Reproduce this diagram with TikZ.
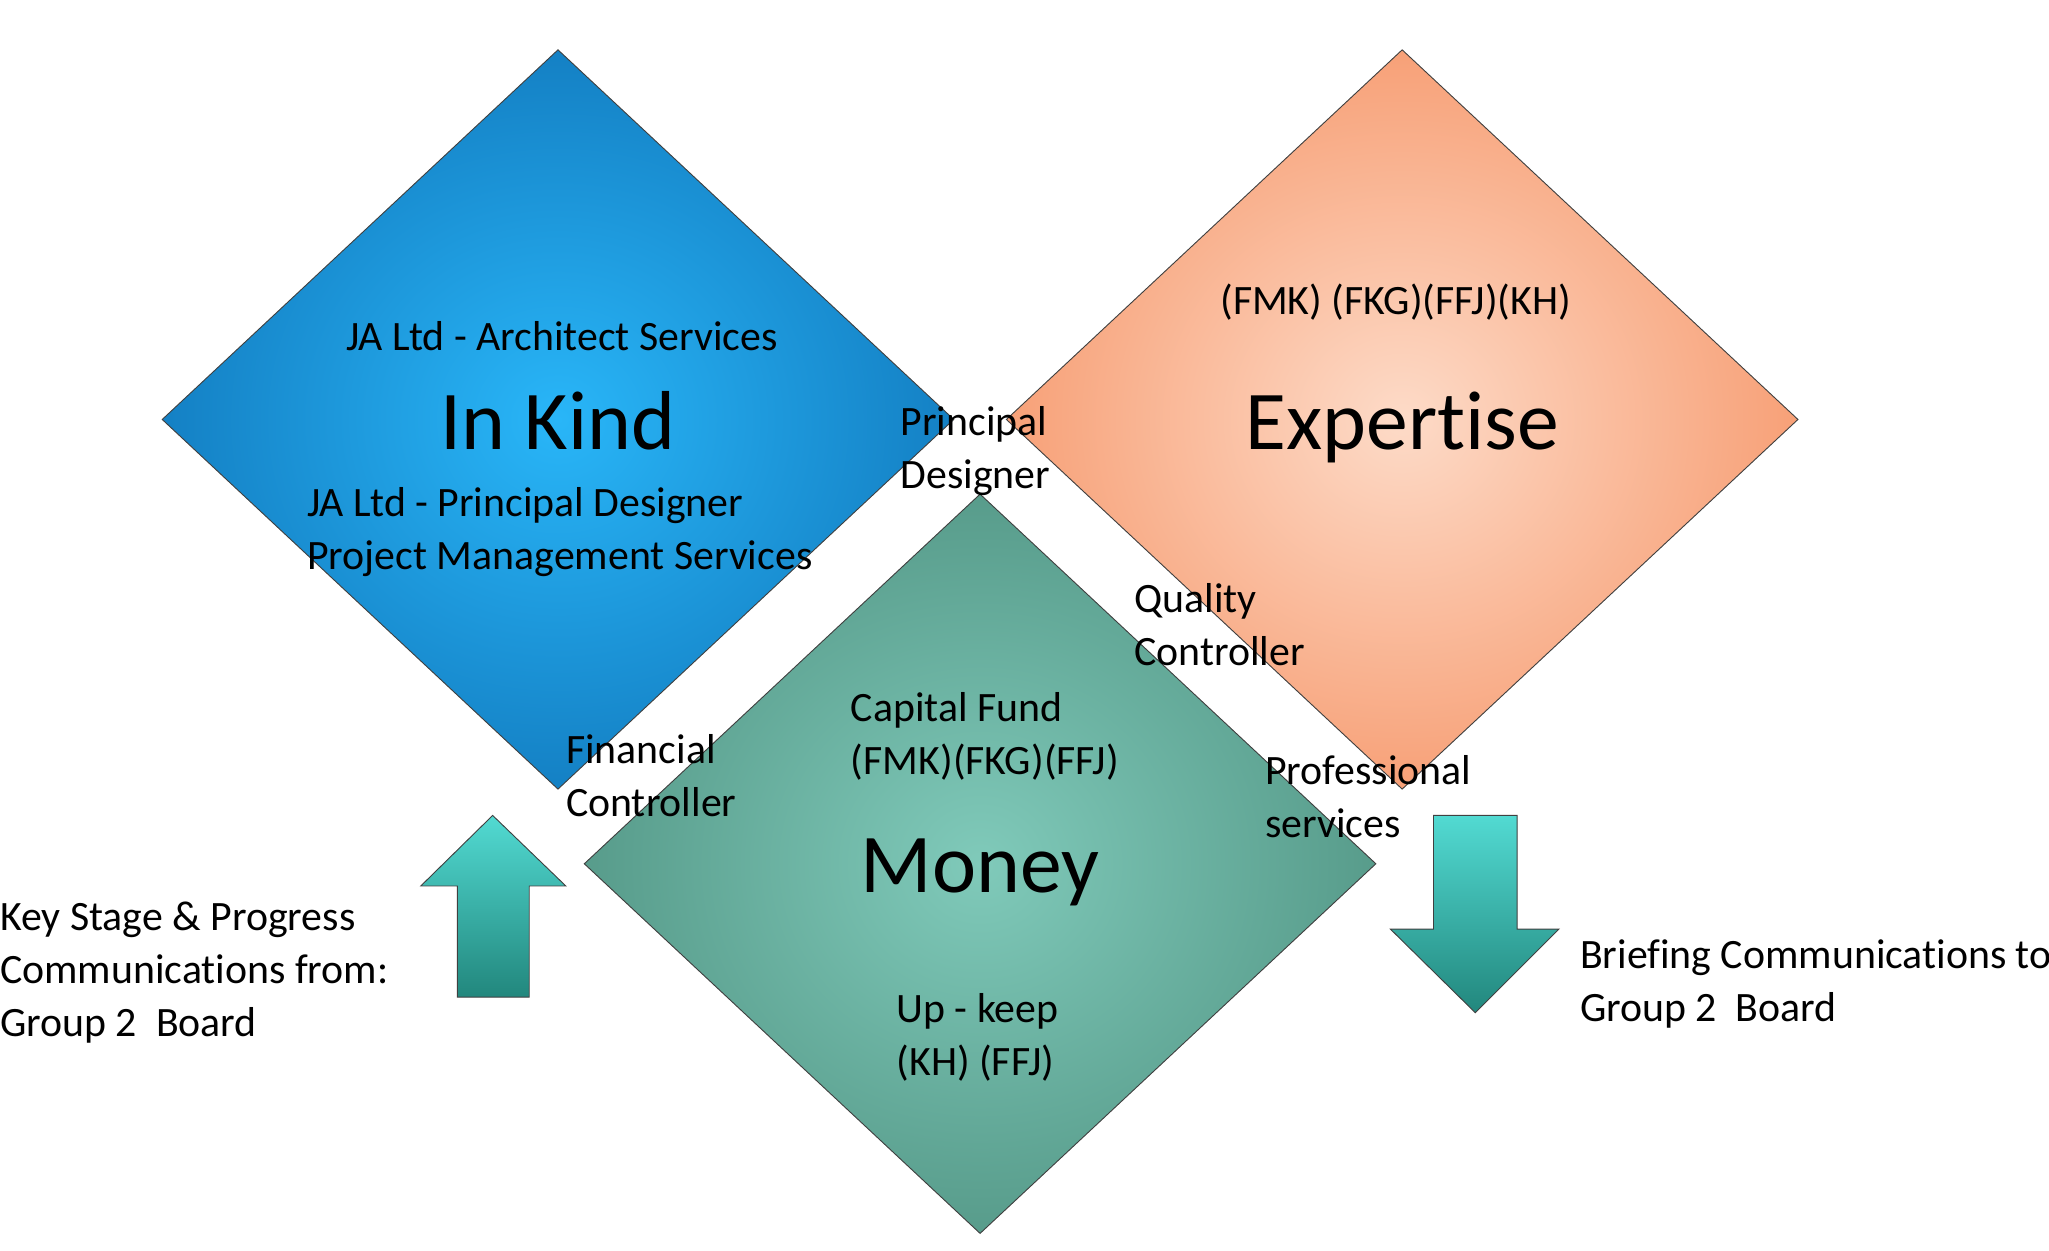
\documentclass[tikz,border=0pt]{standalone}
\usepackage{fontspec}
\setmainfont{Carlito}[Ligatures=NoCommon]
\usetikzlibrary{shapes.geometric}
\definecolor{kindlight}{HTML}{29B6F8}
\definecolor{kinddark}{HTML}{137EC2}
\definecolor{expertlight}{HTML}{FDDBC8}
\definecolor{expertdark}{HTML}{F79E74}
\definecolor{moneylight}{HTML}{80CABA}
\definecolor{moneydark}{HTML}{569A89}
\definecolor{arrowtop}{HTML}{52DAD2}
\definecolor{arrowbottom}{HTML}{22877D}
\pgfdeclareradialshading{kindglow}{\pgfpointorigin}{color(0bp)=(kindlight); color(26bp)=(kinddark); color(50bp)=(kinddark)}
\pgfdeclareradialshading{expertglow}{\pgfpointorigin}{color(0bp)=(expertlight); color(26bp)=(expertdark); color(50bp)=(expertdark)}
\pgfdeclareradialshading{moneyglow}{\pgfpointorigin}{color(0bp)=(moneylight); color(26bp)=(moneydark); color(50bp)=(moneydark)}

\begin{document}
\begin{tikzpicture}[x=1pt,y=-1pt]

    \def\w{606pt}
    \def\h{566pt}
    \def\ls{40.5}

    % Looks shared by the three fields, the two arrows and the texts
    \tikzset{
        diamondbox/.style={diamond, draw=black!75, line width=.7pt,
            inner sep=0pt, minimum width=\w, minimum height=\h},
        arrowbox/.style={draw=black!75, line width=.7pt,
            top color=arrowtop, bottom color=arrowbottom},
        txt/.style={font=\fontsize{32}{\ls}\selectfont, inner sep=0pt,
            align=left},
        bigtxt/.style={font=\fontsize{64}{70}\selectfont, inner sep=0pt}
    }

    \useasboundingbox (0,0) rectangle (1568,957);

    % The three fields
    \node[diamondbox, shading=kindglow] (kind) at (427,321) {};
    \node[diamondbox, shading=expertglow] (expert) at (1073,321) {};
    \node[diamondbox, shading=moneyglow] (money) at (750,661) {};

    % Communication arrows
    \begin{scope}
        \draw[arrowbox] (377,624) -- (433,678) -- (405,678) -- (405,763)
            -- (350,763) -- (350,678) -- (322,678) -- cycle;
        \draw[arrowbox] (1097,624) -- (1161,624) -- (1161,711) -- (1193,711)
            -- (1129,775) -- (1064,711) -- (1097,711) -- cycle;
    \end{scope}

    % Field titles
    \node[bigtxt, anchor=base] (kindtitle) at (427,344) {In Kind};
    \node[bigtxt, anchor=base] (experttitle) at (1073,344) {Expertise};
    \node[bigtxt, anchor=base] (moneytitle) at (750,683) {Money};

    % Texts inside and between the fields (base = last line)
    \node[txt, anchor=base] (architect) at (430,268)
        {JA Ltd - Architect Services};
    \node[txt, anchor=base west] (designer) at (235,436)
        {JA Ltd - Principal Designer\\Project Management Services};
    \node[txt, anchor=base west] (principal) at (689,374)
        {Principal\\Designer};
    \node[txt, anchor=base] (members) at (1068,241)
        {(FMK) (FKG)(FFJ)(KH)};
    \node[txt, anchor=base west] (quality) at (868,509)
        {Quality\\Controller};
    \node[txt, anchor=base west] (capital) at (651,593)
        {Capital Fund\\(FMK)(FKG)(FFJ)};
    \node[txt, anchor=base west] (financial) at (433,625)
        {Financial\\Controller};
    \node[txt, anchor=base west] (professional) at (968,641)
        {Professional\\services};
    \node[txt, anchor=base west] (upkeep) at (686,823)
        {Up - keep\\(KH) (FFJ)};

    % Texts beside the arrows
    \node[txt, anchor=base west] (keystage) at (0,793)
        {Key Stage \& Progress\\Communications from:\\Group 2~ Board};
    \node[txt, anchor=base west] (briefing) at (1209,782)
        {Briefing Communications to\\Group 2~ Board};

\end{tikzpicture}
\end{document}
